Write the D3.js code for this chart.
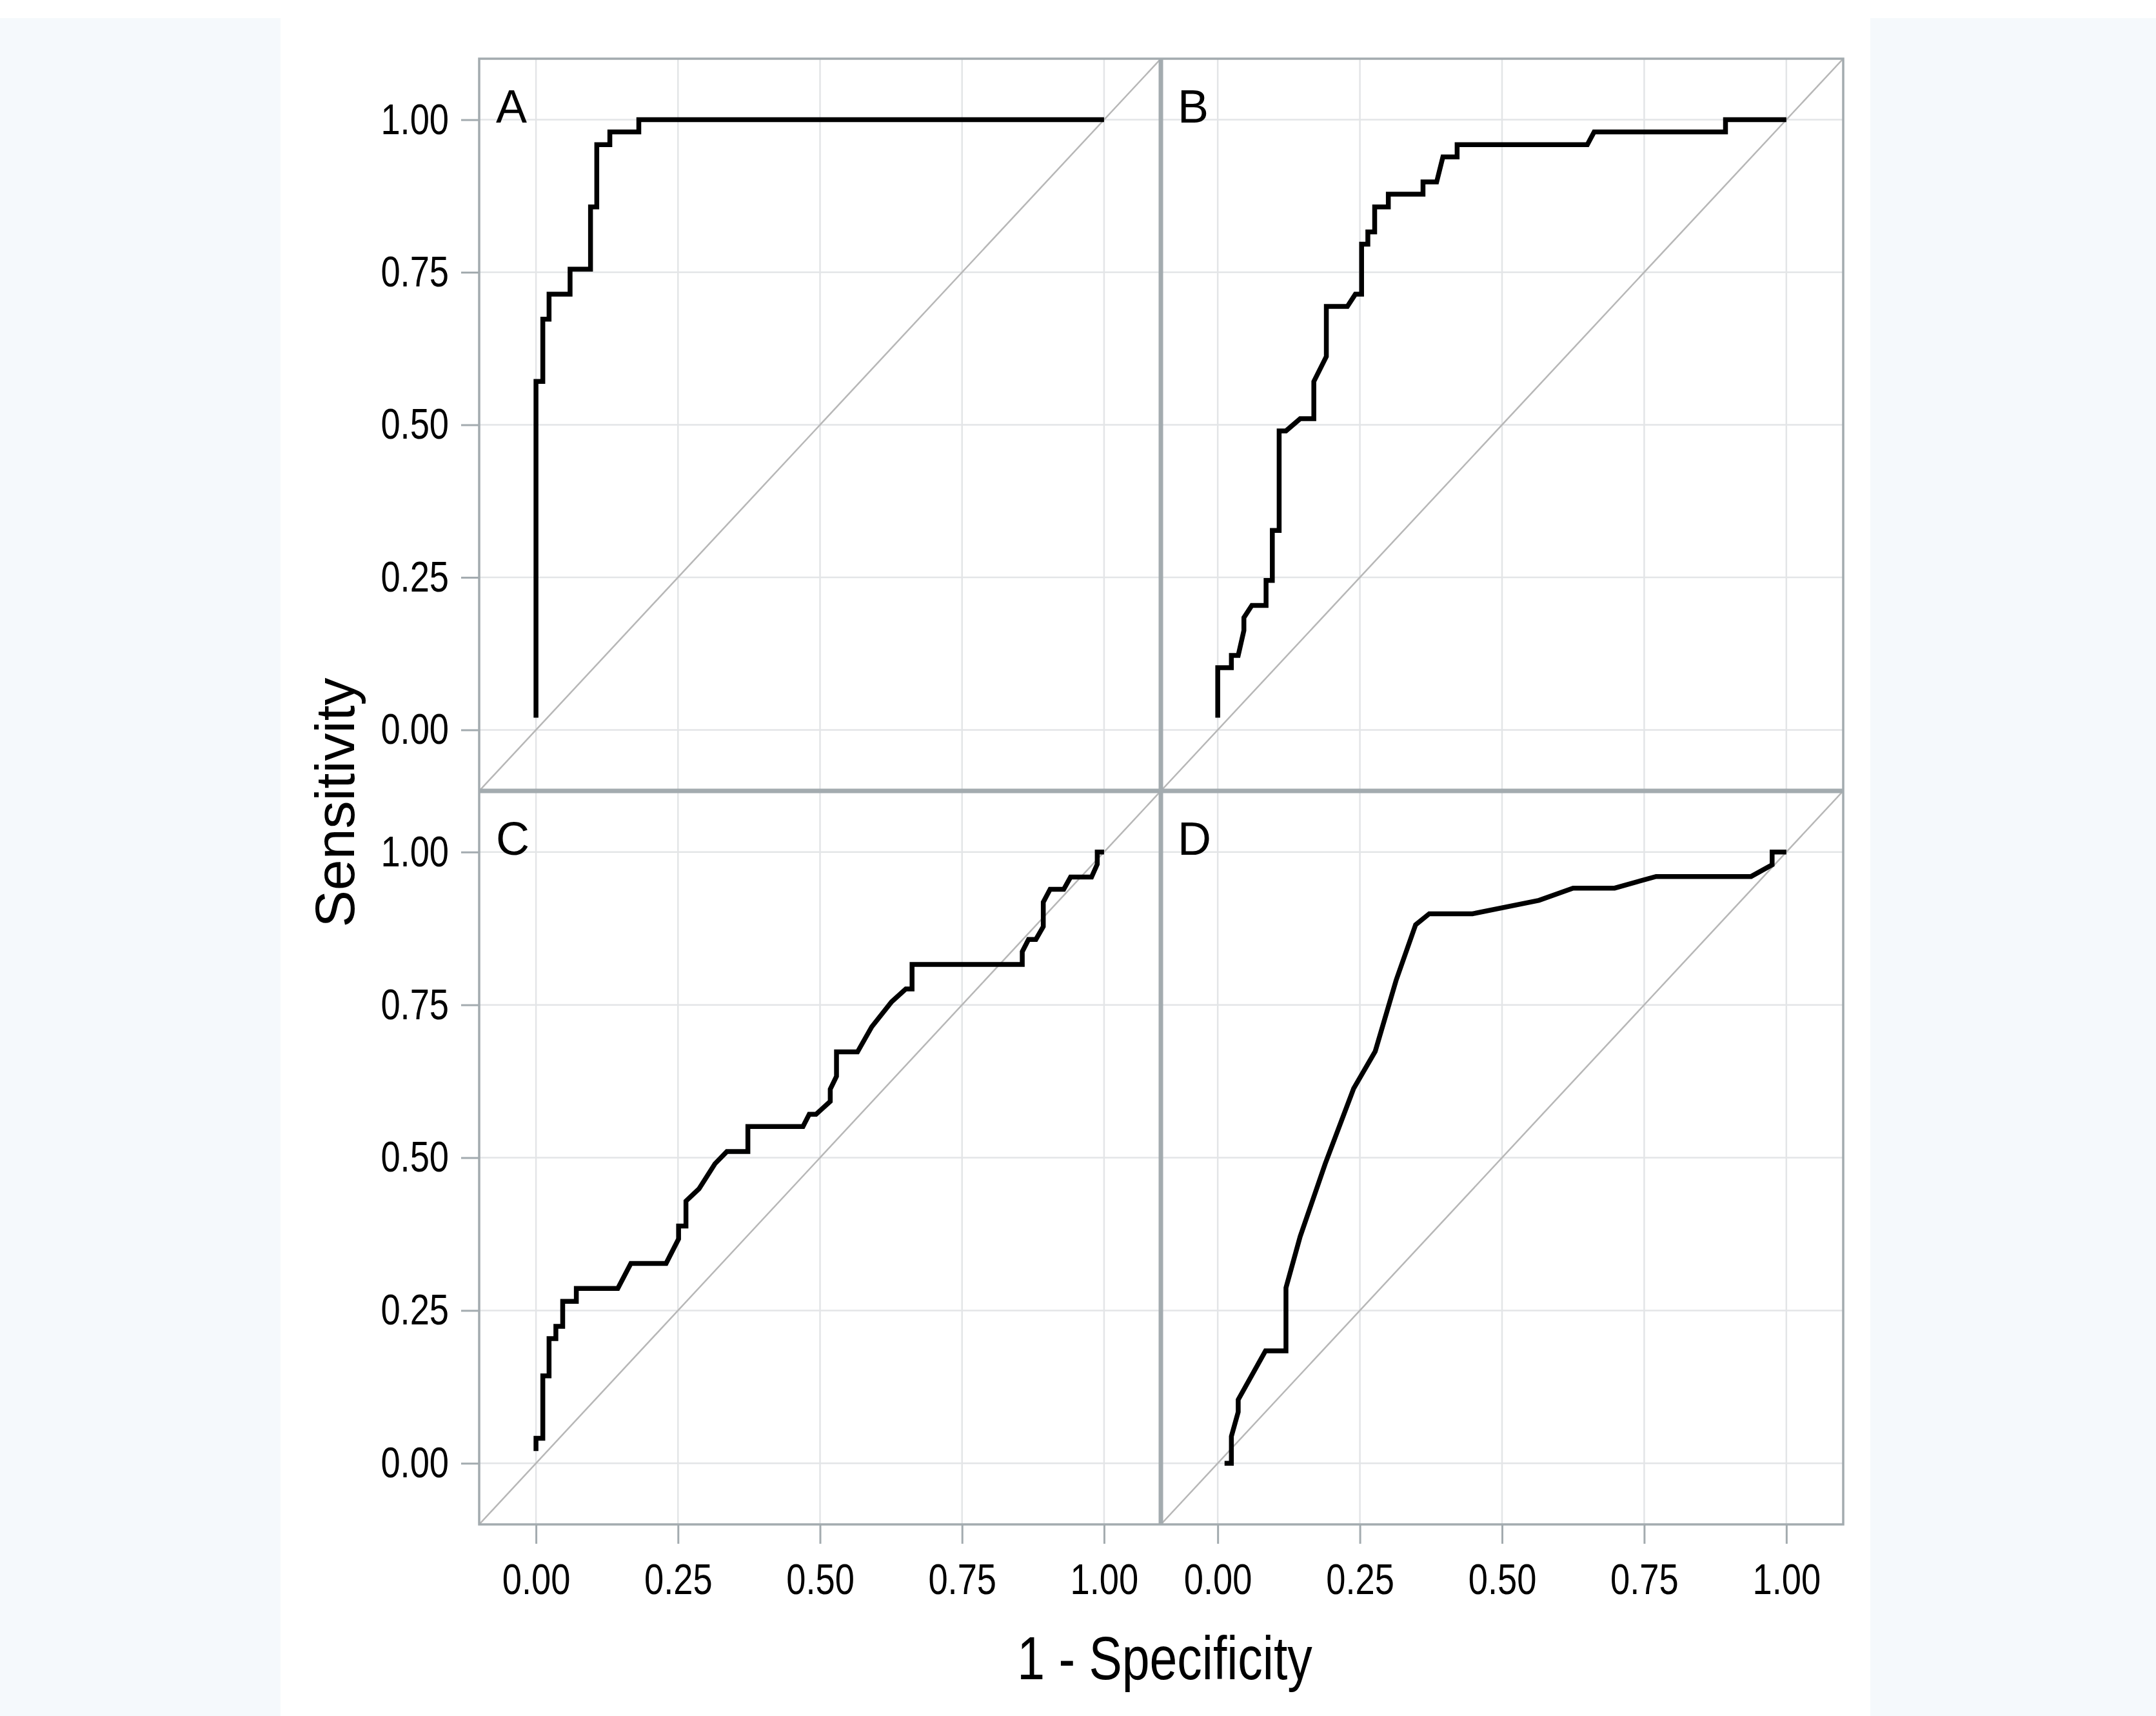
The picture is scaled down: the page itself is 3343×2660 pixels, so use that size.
<!DOCTYPE html>
<html>
<head>
<meta charset="utf-8">
<script src="https://cdn.jsdelivr.net/npm/d3@7.9.0/dist/d3.min.js"></script>
<style>
  body { margin: 0; background: #fff; }
  svg { display: block; }
  .tick text { font-family: "Liberation Sans", Arial, sans-serif; font-size: 67px; fill: #000; }
</style>
</head>
<body>
<svg id="chart" width="3343" height="2660"></svg>
<script>
// values
const panelLabels = ['A', 'B', 'C', 'D'];
const tickValues = [0, 0.25, 0.5, 0.75, 1];
const tickLabels = ['0.00', '0.25', '0.50', '0.75', '1.00'];
const xTitle = '1 - Specificity';
const yTitle = 'Sensitivity';

// ROC vertices: [1 - specificity, sensitivity]
const rocA = [
  [0, 0.020], [0, 0.571], [0.012, 0.571], [0.012, 0.673], [0.023, 0.673], [0.023, 0.714],
  [0.060, 0.714], [0.060, 0.755], [0.096, 0.755], [0.096, 0.857], [0.107, 0.857], [0.107, 0.959],
  [0.130, 0.959], [0.130, 0.980], [0.181, 0.980], [0.181, 1], [1, 1]
];
const rocB = [
  [0, 0.020], [0, 0.102], [0.024, 0.102], [0.024, 0.122], [0.036, 0.122], [0.046, 0.163],
  [0.046, 0.184], [0.060, 0.204], [0.085, 0.204], [0.085, 0.245], [0.096, 0.245], [0.096, 0.327],
  [0.108, 0.327], [0.108, 0.490], [0.120, 0.490], [0.145, 0.510], [0.169, 0.510], [0.169, 0.571],
  [0.191, 0.612], [0.191, 0.694], [0.228, 0.694], [0.242, 0.714], [0.253, 0.714], [0.253, 0.796],
  [0.264, 0.796], [0.264, 0.816], [0.276, 0.816], [0.276, 0.857], [0.300, 0.857], [0.300, 0.878],
  [0.361, 0.878], [0.361, 0.898], [0.385, 0.898], [0.396, 0.939], [0.421, 0.939], [0.421, 0.959],
  [0.650, 0.959], [0.662, 0.980], [0.893, 0.980], [0.893, 1], [1, 1]
];
const rocC = [
  [0, 0.020], [0, 0.041], [0.012, 0.041], [0.012, 0.143], [0.023, 0.143], [0.023, 0.204],
  [0.035, 0.204], [0.035, 0.224], [0.047, 0.224], [0.047, 0.265], [0.071, 0.265], [0.071, 0.286],
  [0.144, 0.286], [0.167, 0.327], [0.229, 0.327], [0.251, 0.367], [0.251, 0.388], [0.264, 0.388],
  [0.264, 0.429], [0.287, 0.449], [0.315, 0.490], [0.336, 0.510], [0.373, 0.510], [0.373, 0.551],
  [0.470, 0.551], [0.481, 0.571], [0.493, 0.571], [0.518, 0.592], [0.518, 0.612], [0.529, 0.633],
  [0.529, 0.673], [0.566, 0.673], [0.591, 0.714], [0.626, 0.755], [0.651, 0.776], [0.662, 0.776],
  [0.662, 0.816], [0.856, 0.816], [0.856, 0.837], [0.867, 0.857], [0.880, 0.857], [0.893, 0.878],
  [0.893, 0.918], [0.905, 0.939], [0.929, 0.939], [0.941, 0.959], [0.978, 0.959], [0.988, 0.980],
  [0.988, 1], [1, 1]
];
const rocD = [
  [0.012, 0], [0.024, 0], [0.024, 0.044], [0.036, 0.084], [0.036, 0.104], [0.084, 0.184],
  [0.120, 0.184], [0.120, 0.287], [0.145, 0.371], [0.189, 0.490], [0.239, 0.613], [0.277, 0.674],
  [0.314, 0.791], [0.348, 0.881], [0.372, 0.899], [0.448, 0.899], [0.565, 0.921], [0.625, 0.941],
  [0.698, 0.941], [0.771, 0.960], [0.938, 0.960], [0.975, 0.979], [0.975, 1], [1, 1]
];
const curves = [rocA, rocB, rocC, rocD];

// layout
const plotLeft = 743, plotTop = 91, midX = 1800, midY = 1226, plotRight = 2858, plotBottom = 2363;
const frameColor = '#a3abaf';
const gridColor = '#e3e5e7';
const narrow = 0.81; // the reference uses a condensed face for ticks and x title

const svg = d3.select('#chart');

svg.append('rect').attr('width', 3343).attr('height', 2660).attr('fill', '#fff');
svg.append('rect').attr('x', 0).attr('y', 28).attr('width', 435).attr('height', 2632).attr('fill', '#f5f9fc');
svg.append('rect').attr('x', 2900).attr('y', 28).attr('width', 443).attr('height', 2632).attr('fill', '#f5f9fc');

const panels = [
  { x0: plotLeft, x1: midX, y0: plotTop, y1: midY },
  { x0: midX, x1: plotRight, y0: plotTop, y1: midY },
  { x0: plotLeft, x1: midX, y0: midY, y1: plotBottom },
  { x0: midX, x1: plotRight, y0: midY, y1: plotBottom }
];

const fmt = (d) => tickLabels[tickValues.indexOf(d)];

panels.forEach((p, i) => {
  const x = d3.scaleLinear().domain([-0.1, 1.1]).range([p.x0, p.x1]);
  const y = d3.scaleLinear().domain([-0.1, 1.1]).range([p.y1, p.y0]);
  const g = svg.append('g');

  g.append('clipPath').attr('id', `clip${i}`)
    .append('rect')
    .attr('x', p.x0).attr('y', p.y0)
    .attr('width', p.x1 - p.x0).attr('height', p.y1 - p.y0);

  const inner = g.append('g').attr('clip-path', `url(#clip${i})`);

  inner.selectAll('line.vgrid')
    .data(tickValues)
    .join('line')
    .attr('class', 'vgrid')
    .attr('x1', (d) => x(d)).attr('x2', (d) => x(d))
    .attr('y1', p.y0).attr('y2', p.y1)
    .attr('stroke', gridColor).attr('stroke-width', 2.5);

  inner.selectAll('line.hgrid')
    .data(tickValues)
    .join('line')
    .attr('class', 'hgrid')
    .attr('x1', p.x0).attr('x2', p.x1)
    .attr('y1', (d) => y(d)).attr('y2', (d) => y(d))
    .attr('stroke', gridColor).attr('stroke-width', 2.5);

  // reference line
  inner.append('line')
    .attr('x1', x(-0.1)).attr('y1', y(-0.1))
    .attr('x2', x(1.1)).attr('y2', y(1.1))
    .attr('stroke', '#b7b7b7').attr('stroke-width', 2.5);

  const line = d3.line().x((d) => x(d[0])).y((d) => y(d[1]));
  inner.append('path')
    .attr('d', line(curves[i]))
    .attr('fill', 'none')
    .attr('stroke', '#000')
    .attr('stroke-width', 7.5)
    .attr('stroke-linejoin', 'miter');

  g.append('text')
    .attr('x', p.x0 + 26)
    .attr('y', y(1) + 4)
    .attr('font-family', '"Liberation Sans", Arial, sans-serif')
    .attr('font-size', 72)
    .text(panelLabels[i]);

  if (i === 0 || i === 2) {
    const ax = svg.append('g')
      .attr('transform', `translate(${plotLeft},0)`)
      .call(d3.axisLeft(y).tickValues(tickValues).tickFormat(fmt).tickSize(28).tickPadding(19));
    ax.select('.domain').remove();
    ax.selectAll('.tick line').attr('stroke', frameColor).attr('stroke-width', 3);
    ax.selectAll('.tick text')
      .attr('x', 0)
      .attr('transform', `translate(-47,0) scale(${narrow},1)`);
  }
  if (i === 2 || i === 3) {
    const ax = svg.append('g')
      .attr('transform', `translate(0,${plotBottom})`)
      .call(d3.axisBottom(x).tickValues(tickValues).tickFormat(fmt).tickSize(30).tickPadding(30));
    ax.select('.domain').remove();
    ax.selectAll('.tick line').attr('stroke', frameColor).attr('stroke-width', 3);
    ax.selectAll('.tick text').attr('transform', `scale(${narrow},1)`);
  }
});

// frame and dividers
svg.append('rect')
  .attr('x', plotLeft).attr('y', plotTop)
  .attr('width', plotRight - plotLeft).attr('height', plotBottom - plotTop)
  .attr('fill', 'none').attr('stroke', frameColor).attr('stroke-width', 3.5);
svg.append('line')
  .attr('x1', midX).attr('x2', midX).attr('y1', plotTop).attr('y2', plotBottom)
  .attr('stroke', frameColor).attr('stroke-width', 7);
svg.append('line')
  .attr('x1', plotLeft).attr('x2', plotRight).attr('y1', midY).attr('y2', midY)
  .attr('stroke', frameColor).attr('stroke-width', 7);

svg.append('text')
  .attr('transform', `translate(1806,2603) scale(${narrow},1)`)
  .attr('text-anchor', 'middle')
  .attr('font-family', '"Liberation Sans", Arial, sans-serif')
  .attr('font-size', 95)
  .text(xTitle);

svg.append('text')
  .attr('transform', 'translate(549,1244) rotate(-90)')
  .attr('text-anchor', 'middle')
  .attr('font-family', '"Liberation Sans", Arial, sans-serif')
  .attr('font-size', 86)
  .text(yTitle);
</script>
</body>
</html>
